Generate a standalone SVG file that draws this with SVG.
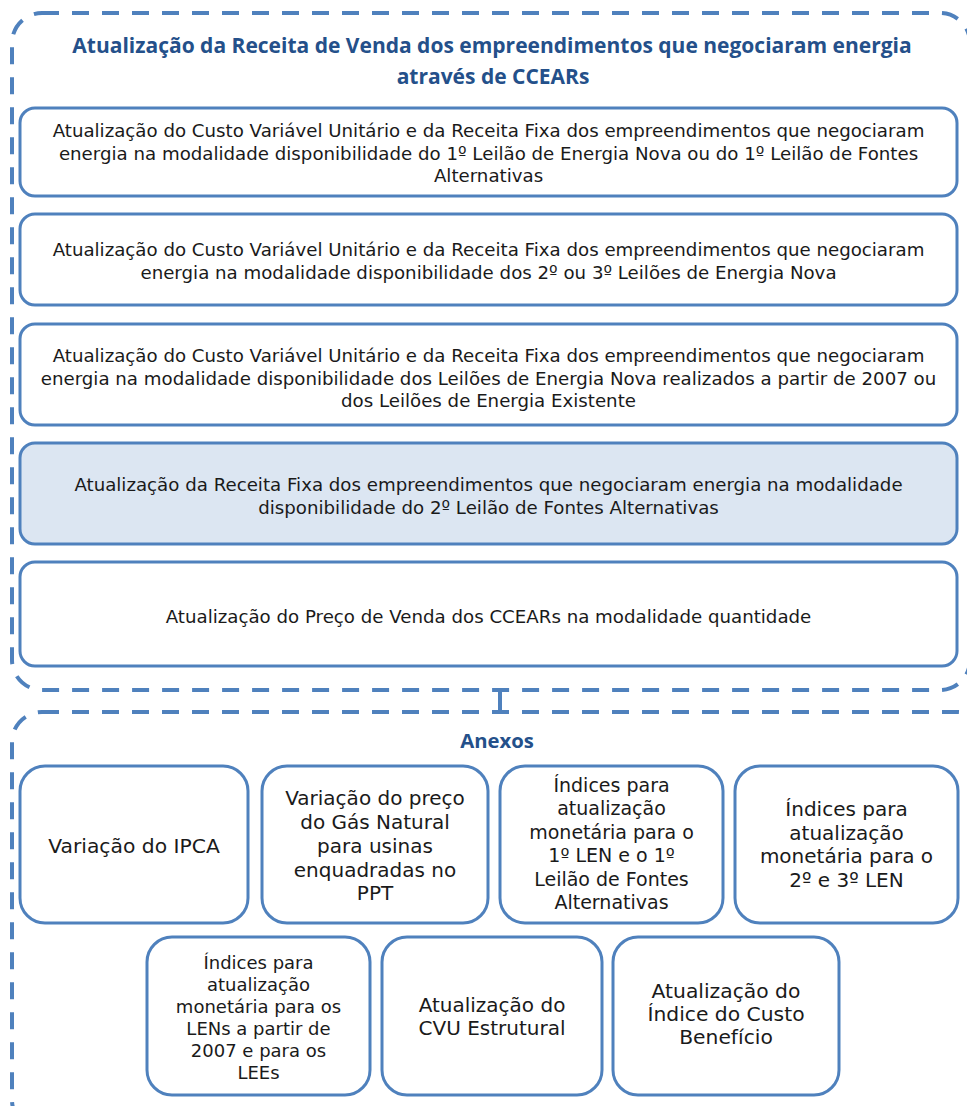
<svg xmlns="http://www.w3.org/2000/svg" width="967" height="1106" viewBox="0 0 967 1106">
<style>
.cont{fill:none;stroke:#4F81BD;stroke-width:4;stroke-dasharray:17 13}
.box{fill:#fff;stroke:#4F81BD;stroke-width:3}
.hl{fill:#DCE6F2}
.t{font-family:"DejaVu Sans",Verdana,sans-serif;font-size:18.2px;fill:#1a1a1a;text-anchor:middle}
.b{font-family:"DejaVu Sans",Verdana,sans-serif;font-size:20px;fill:#1a1a1a;text-anchor:middle}
.h{font-family:"Open Sans","Liberation Sans",sans-serif;font-weight:bold;font-size:21px;fill:#24508A;text-anchor:middle}
.conn{stroke:#4F81BD;stroke-width:4;fill:none}
</style>
<rect width="967" height="1106" fill="#fff"/>
<g id="main">
<rect class="cont" x="12" y="13" width="958" height="677" rx="30"/>
<text class="h" x="492" y="53">Atualização da Receita de Venda dos empreendimentos que negociaram energia</text>
<text class="h" x="493" y="84">através de CCEARs</text>
</g>
<g id="n1">
<rect class="box" x="20" y="108" width="937" height="88" rx="15"/>
<text class="t" x="488.5" y="137">Atualização do Custo Variável Unitário e da Receita Fixa dos empreendimentos que negociaram</text>
<text class="t" x="488.5" y="159.5">energia na modalidade disponibilidade do 1º Leilão de Energia Nova ou do 1º Leilão de Fontes</text>
<text class="t" x="488.5" y="182">Alternativas</text>
</g>
<g id="n2">
<rect class="box" x="20" y="214" width="937" height="91" rx="15"/>
<text class="t" x="488.5" y="256">Atualização do Custo Variável Unitário e da Receita Fixa dos empreendimentos que negociaram</text>
<text class="t" x="488.5" y="279">energia na modalidade disponibilidade dos 2º ou 3º Leilões de Energia Nova</text>
</g>
<g id="n3">
<rect class="box" x="20" y="324" width="937" height="101" rx="15"/>
<text class="t" x="488.5" y="362">Atualização do Custo Variável Unitário e da Receita Fixa dos empreendimentos que negociaram</text>
<text class="t" x="488.5" y="384.5">energia na modalidade disponibilidade dos Leilões de Energia Nova realizados a partir de 2007 ou</text>
<text class="t" x="488.5" y="407">dos Leilões de Energia Existente</text>
</g>
<g id="n4">
<rect class="box hl" x="20" y="443" width="937" height="101" rx="15"/>
<text class="t" x="488.5" y="491">Atualização da Receita Fixa dos empreendimentos que negociaram energia na modalidade</text>
<text class="t" x="488.5" y="514">disponibilidade do 2º Leilão de Fontes Alternativas</text>
</g>
<g id="n5">
<rect class="box" x="20" y="562" width="937" height="104" rx="15"/>
<text class="t" x="488.5" y="623">Atualização do Preço de Venda dos CCEARs na modalidade quantidade</text>
</g>
<g id="connectors">
<line class="conn" x1="500" y1="690" x2="500" y2="712"/>
</g>
<g id="anexos">
<rect class="cont" x="12" y="712" width="975" height="418" rx="30"/>
<text class="h" x="497" y="748" style="font-size:20.3px">Anexos</text>
</g>
<g id="a1">
<rect class="box" x="20" y="766" width="228" height="157" rx="25"/>
<text class="b" x="134" y="853" style="font-size:20.3px">Variação do IPCA</text>
</g>
<g id="a2">
<rect class="box" x="262" y="766" width="226" height="157" rx="25"/>
<text class="b" x="375" y="805">Variação do preço</text>
<text class="b" x="375" y="829">do Gás Natural</text>
<text class="b" x="375" y="853">para usinas</text>
<text class="b" x="375" y="877">enquadradas no</text>
<text class="b" x="375" y="900">PPT</text>
</g>
<g id="a3">
<rect class="box" x="500" y="766" width="223" height="157" rx="25"/>
<text class="b" x="611.5" y="791.5" style="font-size:19px">Índices para</text>
<text class="b" x="611.5" y="815" style="font-size:19px">atualização</text>
<text class="b" x="611.5" y="838.5" style="font-size:19px">monetária para o</text>
<text class="b" x="611.5" y="862" style="font-size:19px">1º LEN e o 1º</text>
<text class="b" x="611.5" y="885.5" style="font-size:19px">Leilão de Fontes</text>
<text class="b" x="611.5" y="909" style="font-size:19px">Alternativas</text>
</g>
<g id="a4">
<rect class="box" x="735" y="766" width="223" height="157" rx="25"/>
<text class="b" x="846.5" y="816">Índices para</text>
<text class="b" x="846.5" y="840">atualização</text>
<text class="b" x="846.5" y="863">monetária para o</text>
<text class="b" x="846.5" y="887">2º e 3º LEN</text>
</g>
<g id="a5">
<rect class="box" x="147" y="937" width="223" height="158" rx="25"/>
<text class="b" x="258.5" y="969" style="font-size:18px">Índices para</text>
<text class="b" x="258.5" y="991" style="font-size:18px">atualização</text>
<text class="b" x="258.5" y="1013" style="font-size:18px">monetária para os</text>
<text class="b" x="258.5" y="1035" style="font-size:18px">LENs a partir de</text>
<text class="b" x="258.5" y="1057" style="font-size:18px">2007 e para os</text>
<text class="b" x="258.5" y="1079" style="font-size:18px">LEEs</text>
</g>
<g id="a6">
<rect class="box" x="382" y="937" width="220" height="158" rx="25"/>
<text class="b" x="492" y="1012">Atualização do</text>
<text class="b" x="492" y="1035">CVU Estrutural</text>
</g>
<g id="a7">
<rect class="box" x="613" y="937" width="226" height="158" rx="25"/>
<text class="b" x="726" y="998" style="font-size:20.3px">Atualização do</text>
<text class="b" x="726" y="1021" style="font-size:20.3px">Índice do Custo</text>
<text class="b" x="726" y="1044" style="font-size:20.3px">Benefício</text>
</g>
</svg>
